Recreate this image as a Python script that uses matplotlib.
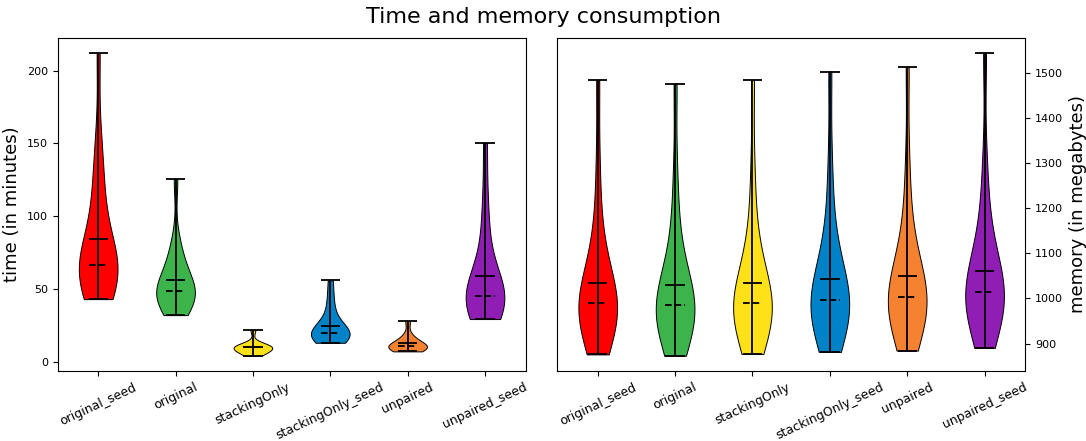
import matplotlib
matplotlib.use('Agg')
import matplotlib.pyplot as plt

labels = ['original_seed', 'original', 'stackingOnly', 'stackingOnly_seed', 'unpaired', 'unpaired_seed']
colors = ['#ff0000', '#3cb44b', '#ffe119', '#0082c8', '#f58231', '#911eb4']

# time per run (minutes)
time_original_seed = [43, 47, 50, 54, 57, 60, 62, 64, 65, 66,
                      67, 70, 74, 80, 95, 108, 120, 134, 152, 212]
time_original = [32, 36, 40, 43, 45, 46, 47, 48,
                 48.5, 51, 55, 60, 67, 73, 82, 125.5]
time_stackingOnly = [4.1, 5.5, 6.5, 7.5, 8.5, 9.5, 10.1, 10.3, 10.8, 11.3, 11.8, 21.7]
time_stackingOnly_seed = [13, 15, 16.5, 17.5, 18.5, 19, 19.4,
                          20, 21, 23, 27.9, 35, 44, 56]
time_unpaired = [7.1, 8, 8.8, 9.5, 10, 10.4, 11, 11.8, 13, 15, 18.5, 28.1]
time_unpaired_seed = [29.3, 33, 36, 39, 41, 43, 44, 45,
                      45.6, 48, 52, 59.3, 72, 90, 112, 150]

# memory per run (megabytes)
mem_original_seed = [876, 900, 920, 935, 948, 958, 967, 975, 982, 988,
                     991, 1000, 1012, 1025, 1045, 1070, 1124, 1180, 1300, 1484]
mem_original = [873, 897, 917, 932, 945, 955, 964, 972, 979, 985,
                986.6, 996, 1008, 1021, 1041, 1066, 1120, 1175, 1280.4, 1475]
mem_stackingOnly = [877, 901, 921, 936, 949, 959, 968, 976, 983, 988,
                    991, 1001, 1013, 1026, 1046, 1071, 1122, 1178, 1290, 1484]
mem_stackingOnly_seed = [881.5, 906, 926, 941, 954, 964, 973, 982, 989, 995,
                         998.8, 1009, 1022, 1036, 1057, 1083, 1135, 1195, 1305.7, 1503]
mem_unpaired = [884.5, 912, 932, 948, 961, 971, 980, 989, 996, 1003,
                1005.6, 1016, 1029, 1043, 1063, 1088, 1138, 1195, 1305.9, 1514]
mem_unpaired_seed = [890.4, 920, 942, 958, 972, 982, 991, 999, 1007, 1014,
                     1016.8, 1028, 1041, 1056, 1076, 1102, 1150, 1205, 1302, 1544]

time_data = [time_original_seed, time_original, time_stackingOnly,
             time_stackingOnly_seed, time_unpaired, time_unpaired_seed]
mem_data = [mem_original_seed, mem_original, mem_stackingOnly,
            mem_stackingOnly_seed, mem_unpaired, mem_unpaired_seed]


def draw(ax, data):
    pos = list(range(1, len(data) + 1))
    parts = ax.violinplot(data, positions=pos, showmeans=True, showmedians=True,
                          showextrema=True)
    for body, c in zip(parts['bodies'], colors):
        body.set_facecolor(c)
        body.set_edgecolor('black')
        body.set_linewidth(0.7)
        body.set_alpha(1)
    for key in ['cbars', 'cmins', 'cmaxes', 'cmeans', 'cmedians']:
        parts[key].set_color('black')
        parts[key].set_linewidth(1.3)
    parts['cmedians'].set_linestyle('--')
    ax.set_xticks(pos)
    ax.set_xticklabels(labels, rotation=25, fontsize=9)
    ax.tick_params(axis='y', labelsize=8)


fig = plt.figure(figsize=(10.86, 4.41), dpi=100)
ax1 = fig.add_axes([0.053, 0.159, 0.431, 0.755])
ax2 = fig.add_axes([0.513, 0.159, 0.431, 0.755])

draw(ax1, time_data)
ax1.set_ylabel('time (in minutes)', fontsize=13)

draw(ax2, mem_data)
ax2.yaxis.tick_right()
ax2.yaxis.set_label_position('right')
ax2.set_ylabel('memory (in megabytes)', fontsize=13)

fig.suptitle('Time and memory consumption', fontsize=16, y=0.985)

plt.savefig('out.png', dpi=100)
